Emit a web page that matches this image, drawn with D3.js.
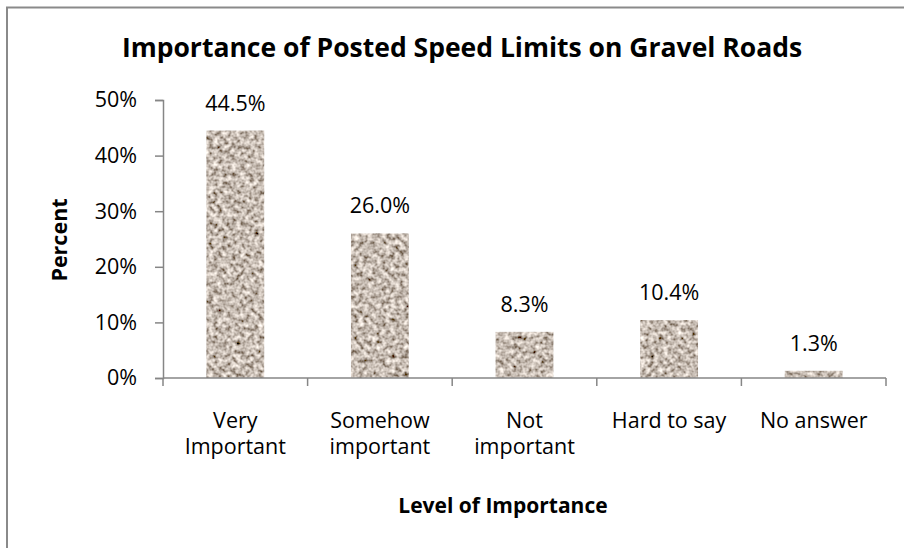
<!DOCTYPE html>
<html>
<head>
<meta charset="utf-8">
<script src="https://cdn.jsdelivr.net/npm/d3@7/dist/d3.min.js"></script>
<style>
  html, body { margin: 0; padding: 0; background: #fff; }
  svg { display: block; }
  text { font-family: "Open Sans", Lato, sans-serif; fill: #000; }
</style>
</head>
<body>
<svg id="chart" width="904" height="548"></svg>
<script>
// Survey answers: how important are posted speed limits on gravel roads
const categories = [["Very", "Important"], ["Somehow", "important"], ["Not", "important"], ["Hard to say"], ["No answer"]];
const percentValues = [44.5, 26.0, 8.3, 10.4, 1.3];
const yTickValues = [0, 10, 20, 30, 40, 50];

const chartTitle = "Importance of Posted Speed Limits on Gravel Roads";
const xTitle = "Level of Importance";
const yTitle = "Percent";

const svg = d3.select("#chart");
const plot = { left: 163, right: 886, top: 100, bottom: 378 };
const axisColor = "#868686";
const labelSize = "21.5px";

// Outer chart frame
svg.append("rect")
  .attr("x", 7).attr("y", 7.5)
  .attr("width", 1000).attr("height", 1000)
  .attr("fill", "none")
  .attr("stroke", "#8a8a8a")
  .attr("stroke-width", 2);

// Granite-like texture for the bars
const defs = svg.append("defs");
const f = defs.append("filter").attr("id", "granite")
  .attr("x", 0).attr("y", 0).attr("width", 1).attr("height", 1)
  .attr("filterUnits", "objectBoundingBox");
f.append("feTurbulence")
  .attr("type", "fractalNoise")
  .attr("baseFrequency", 0.22)
  .attr("numOctaves", 2)
  .attr("seed", 7)
  .attr("result", "noise");
f.append("feColorMatrix")
  .attr("in", "noise")
  .attr("type", "matrix")
  .attr("values", [
    "1.5 0 0 0 -0.18",
    "1.45 0 0 0 -0.22",
    "1.4 0 0 0 -0.25",
    "0 0 0 0 1"
  ].join(" "))
  .attr("result", "tex");
f.append("feComposite")
  .attr("in", "tex").attr("in2", "SourceGraphic")
  .attr("operator", "in");

const x = d3.scaleBand()
  .domain(d3.range(categories.length))
  .range([plot.left, plot.right])
  .paddingInner(0.6)
  .paddingOuter(0.3);

const xOuter = d3.scaleBand()
  .domain(d3.range(categories.length))
  .range([plot.left, plot.right]);

const y = d3.scaleLinear()
  .domain([0, 50])
  .range([plot.bottom, plot.top]);

// Bars
svg.append("g").selectAll("rect")
  .data(percentValues)
  .join("rect")
  .attr("x", (d, i) => x(i))
  .attr("y", d => y(d))
  .attr("width", x.bandwidth())
  .attr("height", d => y(0) - y(d))
  .attr("fill", "#a89888")
  .attr("filter", "url(#granite)");

// Value labels
svg.append("g").selectAll("text")
  .data(percentValues)
  .join("text")
  .attr("x", (d, i) => x(i) + x.bandwidth() / 2)
  .attr("y", d => y(d) - 20)
  .attr("text-anchor", "middle")
  .style("font-size", labelSize)
  .text(d => d.toFixed(1) + "%");

// Y axis
const yAxis = d3.axisLeft(y)
  .tickValues(yTickValues)
  .tickFormat(d => d + "%")
  .tickSize(8)
  .tickPadding(18);
const gy = svg.append("g")
  .attr("transform", `translate(${plot.left},0)`)
  .call(yAxis);
gy.select(".domain").attr("stroke", axisColor).attr("stroke-width", 1.5);
gy.selectAll(".tick line").attr("stroke", axisColor).attr("stroke-width", 1.5);
gy.selectAll(".tick text")
  .style("font-family", "'Open Sans', sans-serif")
  .style("font-size", labelSize)
  .attr("fill", "#000");

// X axis line with ticks on category boundaries
const gx = svg.append("g");
gx.append("line")
  .attr("x1", plot.left).attr("x2", plot.right)
  .attr("y1", y(0)).attr("y2", y(0))
  .attr("stroke", axisColor).attr("stroke-width", 1.5);
const boundaries = d3.range(categories.length + 1)
  .map(i => i < categories.length ? xOuter(i) : xOuter(i - 1) + xOuter.bandwidth());
gx.selectAll("line.tick")
  .data(boundaries)
  .join("line")
  .attr("class", "tick")
  .attr("x1", d => d).attr("x2", d => d)
  .attr("y1", y(0)).attr("y2", y(0) + 8)
  .attr("stroke", axisColor).attr("stroke-width", 1.5);

// Category labels, one text per line
const catGroups = svg.append("g").selectAll("g")
  .data(categories)
  .join("g")
  .attr("transform", (d, i) => `translate(${xOuter(i) + xOuter.bandwidth() / 2},0)`);
catGroups.selectAll("text")
  .data(d => d)
  .join("text")
  .attr("x", 0)
  .attr("y", (d, i) => 428 + i * 25.5)
  .attr("text-anchor", "middle")
  .style("font-size", labelSize)
  .text(d => d);

// Titles
svg.append("text")
  .attr("x", 462).attr("y", 57)
  .attr("text-anchor", "middle")
  .style("font-size", "26.5px")
  .style("font-weight", "bold")
  .text(chartTitle);

svg.append("text")
  .attr("x", 503).attr("y", 513)
  .attr("text-anchor", "middle")
  .style("font-size", "21px")
  .style("font-weight", "bold")
  .text(xTitle);

svg.append("text")
  .attr("transform", `translate(67,240) rotate(-90)`)
  .attr("text-anchor", "middle")
  .style("font-size", "21.5px")
  .style("font-weight", "bold")
  .text(yTitle);
</script>
</body>
</html>
